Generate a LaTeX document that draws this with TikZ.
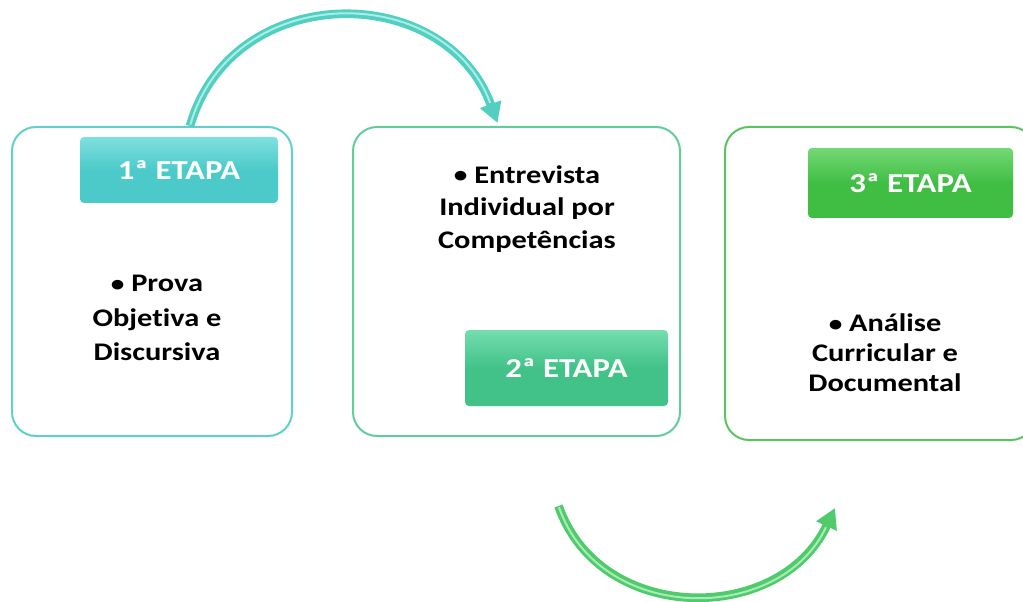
\documentclass[tikz,border=0pt]{standalone}
\usepackage{fontspec}
\setmainfont{Carlito}[FakeStretch=1.2, Ligatures=NoCommon]
\usetikzlibrary{arrows.meta}
\definecolor{cyanline}{HTML}{5FD0CC}
\definecolor{tealline}{HTML}{62CC9E}
\definecolor{greenline}{HTML}{5CC45E}
\definecolor{lab1}{HTML}{4CCACA}
\definecolor{lab1t}{HTML}{7FE0DE}
\definecolor{lab2}{HTML}{42C288}
\definecolor{lab2t}{HTML}{74DDB0}
\definecolor{lab3}{HTML}{40BE44}
\definecolor{lab3t}{HTML}{74D876}
\definecolor{arrow1}{HTML}{52CFC0}
\definecolor{arrow1l}{HTML}{A8EEE6}
\definecolor{arrow2}{HTML}{4FCB6C}
\definecolor{arrow2l}{HTML}{A9EBB8}
\newcommand{\bul}{{\fontsize{17}{17}\selectfont\raisebox{0.3pt}{•}}\ }
\begin{document}
\begin{tikzpicture}[x=0.75pt,y=-0.75pt,
  box/.style={draw, line width=1.5pt, rounded corners=18pt, fill=white, inner sep=0pt},
  lab/.style={rounded corners=3pt, inner sep=0pt, text=white,
    font=\bfseries\fontsize{20.5}{24}\selectfont},
  body/.style={align=center, inner sep=0pt}]
\useasboundingbox (0,0) rectangle (1023,602);
\begin{scope}
\clip (0,0) rectangle (1023,602);
% boxes
\node[box, draw=cyanline, minimum width=280*0.75pt, minimum height=309*0.75pt] (box1) at (152,281.5) {};
\node[box, draw=tealline, minimum width=327*0.75pt, minimum height=309*0.75pt] (box2) at (516.5,281.5) {};
\node[box, draw=greenline, minimum width=310*0.75pt, minimum height=313*0.75pt] (box3) at (880,283.5) {};
\end{scope}
% labels
\node[lab, top color=lab1t, bottom color=lab1, middle color=lab1,
  minimum width=198*0.75pt, minimum height=66*0.75pt] (l1) at (179,170) {1ª ETAPA};
\node[lab, top color=lab2t, bottom color=lab2, middle color=lab2,
  minimum width=203*0.75pt, minimum height=76*0.75pt] (l2) at (566.5,368) {2ª ETAPA};
\node[lab, top color=lab3t, bottom color=lab3, middle color=lab3,
  minimum width=205*0.75pt, minimum height=70*0.75pt] (l3) at (910.5,183) {3ª ETAPA};
% body texts
\node[body, font=\bfseries\fontsize{19}{26}\selectfont] (t1) at (157,318) {\bul Prova\\Objetiva e\\Discursiva};
\node[body, font=\bfseries\fontsize{19}{24.5}\selectfont] (t2) at (527,209) {\bul Entrevista\\Individual por\\Competências};
\node[body, font=\bfseries\fontsize{19}{22.5}\selectfont] (t3) at (885,353) {\bul Análise\\Curricular e\\Documental};
% connectors
\coordinate (a1s) at ([xshift=38*0.75pt]box1.north);
\coordinate (a1e) at ([xshift=-19*0.75pt,yshift=3*0.75pt]box2.north);
\coordinate (a2s) at ([xshift=42*0.75pt,yshift=-69*0.75pt]box2.south);
\coordinate (a2e) at ([xshift=-45*0.75pt,yshift=-67*0.75pt]box3.south);
\draw[arrow1, line width=6.5pt, -{Triangle[length=15pt,width=16pt]}]
  (a1s) .. controls (232,-20) and (445,-20) .. (a1e);
\draw[arrow1l, line width=1.5pt, shorten >=16pt, shorten <=1pt]
  (a1s) .. controls (232,-20) and (445,-20) .. (a1e);
\draw[arrow2, line width=6.5pt, -{Triangle[length=15pt,width=16pt]}]
  (a2s) .. controls (600,625) and (780,625) .. (a2e);
\draw[arrow2l, line width=1.5pt, shorten >=16pt, shorten <=1pt]
  (a2s) .. controls (600,625) and (780,625) .. (a2e);
\end{tikzpicture}
\end{document}
